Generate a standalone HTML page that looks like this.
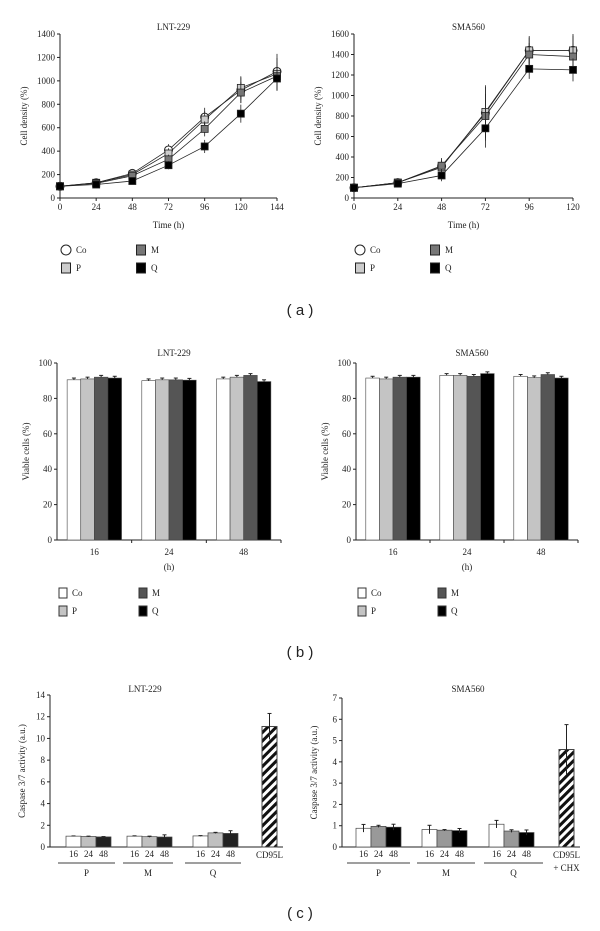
<!DOCTYPE html>
<html><head><meta charset="utf-8"><style>
body{margin:0;background:#fff;}
svg{display:block;font-family:"Liberation Serif",serif;}
.t{font-size:9px;fill:#222;}
.lbl{font-family:"Liberation Sans",sans-serif;font-size:15px;fill:#222;}
</style></head><body>
<svg id="fig" width="600" height="931" viewBox="0 0 600 931">
<defs><pattern id="hatch" patternUnits="userSpaceOnUse" width="6" height="6" patternTransform="rotate(45)"><rect width="6" height="6" fill="#fff"/><rect width="3" height="6" fill="#111"/></pattern></defs>
<text class="lbl" x="300" y="315" text-anchor="middle">( a )</text>
<text class="lbl" x="300" y="657" text-anchor="middle">( b )</text>
<text class="lbl" x="300" y="918" text-anchor="middle">( c )</text>
</svg>
<script>
const NS="http://www.w3.org/2000/svg";
const fig=document.getElementById('fig');
function mk(tag,attrs,parent){const e=document.createElementNS(NS,tag);for(const k in attrs)e.setAttribute(k,attrs[k]);(parent||fig).appendChild(e);return e;}
function txt(x,y,s,anchor,parent,cls){const e=mk('text',{x:x,y:y,'text-anchor':anchor||'middle',class:cls||'t'},parent);e.textContent=s;return e;}

// ---- Panel a data ----
const aLeftX=[0,24,48,72,96,120,144];
const aLeftCo=[100,130,210,410,690,920,1080];
const aLeftP=[100,130,200,380,670,940,1060];
const aLeftM=[100,125,190,330,590,900,1040];
const aLeftQ=[100,115,145,280,440,720,1020];
const aLeftErr=[0,10,20,50,80,110,150];
const aRightX=[0,24,48,72,96,120];
const aRightCo=[100,150,310,830,1440,1440];
const aRightP=[100,150,300,840,1440,1440];
const aRightM=[100,150,315,800,1400,1380];
const aRightQ=[100,140,220,680,1260,1250];
const aRightErr=[0,10,80,270,140,160];
const aLeftTicks=[0,200,400,600,800,1000,1200,1400];
const aRightTicks=[0,200,400,600,800,1000,1200,1400,1600];

// ---- Panel b data ----
const bCats=['16','24','48'];
const bLeftCo=[90.5,90,91];
const bLeftP=[91,90.5,92];
const bLeftM=[92,90.5,93];
const bLeftQ=[91.5,90.3,89.5];
const bRightCo=[91.5,93,92.5];
const bRightP=[91,93,91.7];
const bRightM=[92,92.5,93.5];
const bRightQ=[92,94,91.5];
const bTicks=[0,20,40,60,80,100];

// ---- Panel c data ----
const cGroups=['P','M','Q'];
const cTimes=['16','24','48'];
const cLeftVals=[[1.0,0.97,0.93],[1.0,0.95,0.92],[1.02,1.3,1.25]];
const cLeftErr=[[0.02,0.03,0.03],[0.03,0.05,0.2],[0.03,0.05,0.25]];
const cLeftPos=11.1, cLeftPosErr=1.2;
const cRightVals=[[0.88,0.97,0.93],[0.82,0.79,0.77],[1.07,0.75,0.68]];
const cRightErr=[[0.18,0.05,0.14],[0.2,0.03,0.1],[0.18,0.06,0.12]];
const cRightPos=4.58, cRightPosErr=1.17;
const cLeftTicks=[0,2,4,6,8,10,12,14];
const cRightTicks=[0,1,2,3,4,5,6,7];

function yAxis(g,x,y0,y1,max,ticks,title,titleX){
  const sy=v=>y0-(y0-y1)*v/max;
  const ax=mk('line',{x1:x,y1:y0,x2:x,y2:y1,stroke:'#222','stroke-width':1},g);
  
  ticks.forEach(v=>{mk('line',{x1:x-3,x2:x,y1:sy(v),y2:sy(v),stroke:'#222'},g);txt(x-5,sy(v)+3,String(v),'end',g);});
  const t=txt(titleX,(y0+y1)/2,title,'middle',g);t.setAttribute('transform',`rotate(-90 ${titleX} ${(y0+y1)/2})`);
  
  return sy;
}

// Line chart
function lineChart(name,title,L,titleX,xs,series,err,ticks,max,xr){
  const g=mk('g',{});
  
  const y0=198,y1=34;
  txt((L+xr)/2+5,30,title,'middle',g);
  const sy=yAxis(g,L,y0,y1,max,ticks,'Cell density (%)',L-33);
  const sx=v=>L+(xr-L)*v/xs[xs.length-1];
  mk('line',{x1:L,x2:xr,y1:y0,y2:y0,stroke:'#222'},g);
  xs.forEach(v=>{mk('line',{x1:sx(v),x2:sx(v),y1:y0,y2:y0+3,stroke:'#222'},g);txt(sx(v),y0+12,String(v),'middle',g);});
  txt((L+xr)/2,y0+30,'Time (h)','middle',g);
  const styles=[{f:'#fff',c:1},{f:'#ccc'},{f:'#777'},{f:'#000'}];
  series.forEach((s,i)=>{
    const pts=s.map((v,j)=>sx(xs[j])+','+sy(v)).join(' ');
    const pl=mk('polyline',{points:pts,fill:'none',stroke:'#222','stroke-width':0.8},g);
    
    s.forEach((v,j)=>{
      const e=err[j]*(1-i*0.1);
      if(e>0)mk('line',{x1:sx(xs[j]),x2:sx(xs[j]),y1:sy(v-e),y2:sy(v+e),stroke:'#222','stroke-width':0.8},g);
      let m;
      if(styles[i].c)m=mk('circle',{cx:sx(xs[j]),cy:sy(v),r:4,fill:'#fff',stroke:'#222'},g);
      else m=mk('rect',{x:sx(xs[j])-3.5,y:sy(v)-3.5,width:7,height:7,fill:styles[i].f,stroke:'#222','stroke-width':0.8},g);
      
    });
  });
  // legend
  const lx=L+6, ly=250;
  const items=[['Co',0,0,true,'#fff'],['P',0,18,false,'#ccc'],['M',75,0,false,'#777'],['Q',75,18,false,'#000']];
  items.forEach(it=>{
    let m;
    if(it[3])m=mk('circle',{cx:lx+it[1],cy:ly+it[2],r:5,fill:'#fff',stroke:'#222'},g);
    else m=mk('rect',{x:lx+it[1]-4.5,y:ly+it[2]-5,width:9,height:10,fill:it[4],stroke:'#222'},g);
    
    txt(lx+it[1]+10,ly+it[2]+3,it[0],'start',g);
  });
}
lineChart('line-chart-lnt229','LNT-229',60,0,aLeftX,[aLeftCo,aLeftP,aLeftM,aLeftQ],aLeftErr,aLeftTicks,1400,277);
lineChart('line-chart-sma560','SMA560',354,0,aRightX,[aRightCo,aRightP,aRightM,aRightQ],aRightErr,aRightTicks,1600,573);

// Bar chart b
function barChartB(name,title,L,R,series,groupStart){
  const g=mk('g',{});
  
  const y0=540,y1=363;
  txt((L+R)/2+5,356,title,'middle',g);
  const sy=yAxis(g,L,y0,y1,100,bTicks,'Viable cells (%)',L-28);
  mk('line',{x1:L,x2:R,y1:y0,y2:y0,stroke:'#222'},g);
  const gw=(R-L)/3;
  [1,2,3].forEach(k=>mk('line',{x1:L+gw*k,x2:L+gw*k,y1:y0,y2:y0+3,stroke:'#222'},g));
  const fills=['#fff','#c4c4c4','#555','#000'];
  const bw=13.6;
  bCats.forEach((c,j)=>{
    const cx=L+gw*(j+0.5);
    txt(cx,y0+15,c,'middle',g);
    series.forEach((s,i)=>{
      const x=cx-2*bw+i*bw;
      const b=mk('rect',{x:x,y:sy(s[j]),width:bw,height:y0-sy(s[j]),fill:fills[i],stroke:'#444','stroke-width':0.6},g);
      
      mk('line',{x1:x+bw/2,x2:x+bw/2,y1:sy(s[j]),y2:sy(s[j]+1),stroke:'#222'},g);
      mk('line',{x1:x+bw/2-2,x2:x+bw/2+2,y1:sy(s[j]+1),y2:sy(s[j]+1),stroke:'#222'},g);
    });
  });
  txt((L+R)/2,570,'(h)','middle',g);
  const lx=L+6,ly=593;
  [['Co',0,0],['P',0,18],['M',80,0],['Q',80,18]].forEach((it,i)=>{
    const m=mk('rect',{x:lx+it[1]-4,y:ly+it[2]-5,width:8,height:10,fill:fills[[0,1,2,3][i]],stroke:'#333'},g);
    
    txt(lx+it[1]+9,ly+it[2]+3,it[0],'start',g);
  });
}
barChartB('bar-chart-lnt229-viability','LNT-229',57,281,[bLeftCo,bLeftP,bLeftM,bLeftQ]);
barChartB('bar-chart-sma560-viability','SMA560',356,578,[bRightCo,bRightP,bRightM,bRightQ]);

// Bar chart c
function barChartC(name,title,L,y1,max,ticks,vals,errs,groupX,underline,bw,fills,pos,posErr,posX,posLabels){
  const g=mk('g',{});
  
  const y0=847;
  txt(title[1],692,title[0],'middle',g);
  const sy=yAxis(g,L,y0,y1,max,ticks,'Caspase 3/7 activity (a.u.)',L-25);
  mk('line',{x1:L,x2:posX+bw+6,y1:y0,y2:y0,stroke:'#222'},g);
  cGroups.forEach((gn,k)=>{
    vals[k].forEach((v,i)=>{
      const x=groupX[k]+i*bw;
      const b=mk('rect',{x:x,y:sy(v),width:bw,height:y0-sy(v),fill:fills[i],stroke:'#444','stroke-width':0.7},g);
      
      const e=errs[k][i];
      mk('line',{x1:x+bw/2,x2:x+bw/2,y1:sy(v-e),y2:sy(v+e),stroke:'#222'},g);
      mk('line',{x1:x+bw/2-2,x2:x+bw/2+2,y1:sy(v+e),y2:sy(v+e),stroke:'#222'},g);
      txt(x+bw/2,857,cTimes[i],'middle',g);
    });
    const u=mk('line',{x1:underline[k][0],x2:underline[k][1],y1:863,y2:863,stroke:'#666','stroke-width':1.2},g);
    
    txt((underline[k][0]+underline[k][1])/2,876,gn,'middle',g);
  });
  const pb=mk('rect',{x:posX,y:sy(pos),width:15,height:y0-sy(pos),fill:'url(#hatch)',stroke:'#444'},g);
  
  mk('line',{x1:posX+7.5,x2:posX+7.5,y1:sy(pos-posErr),y2:sy(pos+posErr),stroke:'#222'},g);
  mk('line',{x1:posX+5.5,x2:posX+9.5,y1:sy(pos+posErr),y2:sy(pos+posErr),stroke:'#222'},g);
  posLabels.forEach((s,i)=>txt(posX+7.5,858+i*13,s,'middle',g));
}
barChartC('bar-chart-lnt229-caspase',['LNT-229',145],50,695,14,cLeftTicks,cLeftVals,cLeftErr,[66,127,193],[[58,115],[123,173],[185,241]],15,['#fff','#c0c0c0','#222'],cLeftPos,cLeftPosErr,262,['CD95L']);
barChartC('bar-chart-sma560-caspase',['SMA560',468],342,698,7,cRightTicks,cRightVals,cRightErr,[356,422,489],[[347,410],[417,475],[484,543]],15,['#fff','#999','#000'],cRightPos,cRightPosErr,559,['CD95L','+ CHX']);
</script>
</body></html>
